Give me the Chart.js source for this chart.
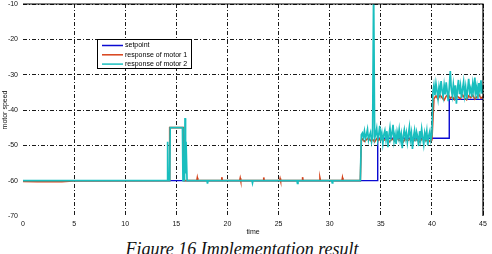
<!DOCTYPE html>
<html>
<head>
<meta charset="utf-8">
<script src="https://cdn.jsdelivr.net/npm/chart.js@4.4.1/dist/chart.umd.min.js"></script>
<style>
    html, body { margin: 0; padding: 0; background: #fff; }
    #wrap { position: relative; width: 492px; height: 236px; }
    #caption {
        position: absolute; left: -4px; top: 239px; width: 492px; text-align: center;
        font: italic 18px "Liberation Serif", "Times New Roman", serif; color: #111;
        white-space: nowrap;
    }
</style>
</head>
<body>
<div id="wrap"><canvas id="speedChart"></canvas></div>
<div id="caption">Figure 16 Implementation result</div>
<script>
// setpoint (step reference)
const setpointTime  = [0, 34.7, 34.7, 41.7, 41.7, 45];
const setpointSpeed = [-60, -60, -48, -48, -37, -37];

// motor 1, hand-read points up to the first step, then a sampled tail
const motor1Time  = [0, 1.4, 2.6, 3.8, 4.9, 14.3, 14.35, 15.7, 15.75,
                     17.0, 17.05, 17.1, 19.4, 19.45, 19.5, 21.2, 21.25, 21.3, 23.5, 23.55, 23.6,
                     25.1, 25.15, 25.2, 27.3, 27.35, 27.4, 29.0, 29.05, 29.1, 31.2, 31.25, 31.3, 33.0, 33.1];
const motor1Speed = [-60.2, -60.3, -60.2, -60.3, -60.1, -60, -45, -45, -60,
                     -60, -59.2, -60, -60, -59.0, -60, -60, -59.3, -60, -60, -59.1, -60,
                     -60, -59.4, -60, -60, -59.0, -60, -60, -59.3, -60, -60, -59.2, -60, -60, -48.6];
const motor1TailStart = 33.2, motor1TailStep = 0.2;
const motor1Tail = [
    -48.2, -48.9, -48.4, -47.9, -48.7, -48.3, -49.0, -48.1, -48.6, -47.8, -48.8, -48.4,
    -48.0, -49.1, -48.5, -48.2, -48.9, -47.9, -48.6, -48.3, -49.0, -48.1, -48.7, -48.4,
    -47.8, -48.8, -48.2, -48.6, -49.0, -48.3, -48.0, -48.7, -48.4, -48.9, -48.5,
    -36.8, -36.0, -36.9, -35.8, -36.5, -37.2, -36.1, -35.6, -36.7, -36.2, -37.0, -35.9,
    -36.4, -36.8, -35.7, -36.6, -37.1, -36.0, -36.5, -35.8, -36.9, -36.3, -35.6, -36.7, -36.2
];

// motor 2
const motor2Time  = [0, 14.1, 14.15, 14.2, 14.35, 14.4, 15.6, 15.65, 15.8, 15.85, 15.9,
                     15.95, 16.05, 18.0, 18.05, 18.1, 22.4, 22.45, 22.5, 26.8, 26.85, 26.9, 30.2, 30.25, 30.3, 33.0, 33.1];
const motor2Speed = [-60, -60, -49, -60, -60, -45, -45, -60, -60, -42.3, -58,
                     -49, -60, -60, -60.8, -60, -60, -60.7, -60, -60, -60.8, -60, -60, -60.6, -60, -60, -47];
const motor2TailStart = 33.2, motor2TailStep = 0.1;
const motor2Tail = [
    -46.5, -47.8, -46.0, -48.2, -47.0, -45.5, -48.5, -47.2, -46.3, -49.0, -47.5, -5,
    -48.0, -46.8, -45.2, -48.6, -47.0, -44.5, -48.0, -46.5, -49.5, -47.0, -45.8, -48.2,
    -46.0, -50.5, -47.2, -45.0, -48.0, -46.6, -44.2, -48.8, -47.0, -49.6, -46.2, -47.8,
    -45.5, -48.5, -46.8, -50.8, -47.3, -45.6, -48.0, -46.4, -49.2, -47.0, -44.8, -48.4,
    -46.5, -51.0, -47.6, -45.8, -48.9, -46.2, -47.5, -50.2, -46.0, -48.3, -45.4, -47.8,
    -49.8, -46.5, -48.0, -45.9, -50.0, -47.2, -46.0, -48.5, -47.0,
    -35.0, -33.0, -35.8, -32.5, -34.6, -36.8, -33.4, -35.2, -31.8, -34.5,
    -36.2, -33.0, -35.6, -32.2, -34.8, -37.5, -33.6, -29.0, -34.2, -36.0,
    -32.8, -35.4, -33.0, -38.2, -34.0, -31.5, -35.5, -33.2, -36.6, -34.0,
    -32.0, -35.8, -33.5, -37.0, -34.2, -31.2, -35.0, -33.8, -36.4, -32.6,
    -34.8, -30.8, -35.2, -33.4, -36.8, -32.4, -34.6, -31.6, -35.4, -33.0
];

const xTicks = [0, 5, 10, 15, 20, 25, 30, 35, 40, 45];
const yTicks = [-70, -60, -50, -40, -30, -20, -10];

const toPoints = (times, values) => times.map((t, i) => ({ x: t, y: values[i] }));
const withTail = (times, values, start, step, tail) =>
    toPoints(times, values).concat(tail.map((v, i) => ({ x: +(start + i * step).toFixed(2), y: v })));

const axisFont = { family: '"Liberation Sans", Arial, sans-serif', size: 7 };

const frameAndLegend = {
    id: 'frameAndLegend',
    afterDraw(chart) {
        const { ctx, chartArea: a } = chart;
        ctx.save();
        // top and right of the box
        ctx.strokeStyle = '#000';
        ctx.lineWidth = 1.2;
        ctx.beginPath();
        ctx.moveTo(a.left, a.top);
        ctx.lineTo(a.right, a.top);
        ctx.lineTo(a.right, a.bottom);
        ctx.stroke();

        // legend box inside the plot
        const lx = a.left + 74, ly = a.top + 35, lw = 94, lh = 29;
        ctx.fillStyle = '#fff';
        ctx.fillRect(lx, ly, lw, lh);
        ctx.lineWidth = 1;
        ctx.strokeRect(lx + 0.5, ly + 0.5, lw, lh);
        ctx.font = '7px "Liberation Sans", Arial, sans-serif';
        ctx.textBaseline = 'middle';
        chart.data.datasets.forEach((ds, i) => {
            const y = ly + 6.5 + i * 9.3;
            ctx.strokeStyle = ds.borderColor;
            ctx.lineWidth = 1.5;
            ctx.beginPath();
            ctx.moveTo(lx + 5, y);
            ctx.lineTo(lx + 26, y);
            ctx.stroke();
            ctx.fillStyle = '#000';
            ctx.fillText(ds.label, lx + 28, y);
        });
        ctx.restore();
    }
};

document.addEventListener('DOMContentLoaded', function() {
    const ctx = document.getElementById('speedChart').getContext('2d');
    new Chart(ctx, {
        type: 'line',
        data: {
            datasets: [{
                label: 'setpoint',
                data: toPoints(setpointTime, setpointSpeed),
                borderColor: 'rgb(10, 10, 210)',
                borderWidth: 1.4,
                order: 2
            }, {
                label: 'response of motor 1',
                data: withTail(motor1Time, motor1Speed, motor1TailStart, motor1TailStep, motor1Tail),
                borderColor: 'rgb(215, 65, 25)',
                borderWidth: 1.6,
                order: 1
            }, {
                label: 'response of motor 2',
                data: withTail(motor2Time, motor2Speed, motor2TailStart, motor2TailStep, motor2Tail),
                borderColor: 'rgb(25, 190, 190)',
                borderWidth: 1.7,
                order: 0
            }]
        },
        options: {
            responsive: true,
            maintainAspectRatio: false,
            animation: false,
            elements: { point: { radius: 0 }, line: { tension: 0 } },
            layout: { padding: { left: 0, right: 9, top: 4, bottom: 0 } },
            plugins: { legend: { display: false }, tooltip: { enabled: false } },
            scales: {
                x: {
                    type: 'linear',
                    min: 0,
                    max: 45,
                    afterBuildTicks: s => { s.ticks = xTicks.map(v => ({ value: v })); },
                    afterFit: s => { s.height = 20; },
                    grid: {
                        drawTicks: false,
                        lineWidth: 0.9,
                        color: c => (c.tick && c.tick.value === 0) ? 'rgba(0,0,0,0)' : '#000'
                    },
                    border: { display: false, dash: [4, 2, 1, 2] },
                    ticks: { font: axisFont, color: '#111', padding: 4, maxRotation: 0 },
                    title: { display: true, text: 'time', font: axisFont, color: '#111', padding: 0 }
                },
                y: {
                    min: -70,
                    max: -10,
                    afterBuildTicks: s => { s.ticks = yTicks.map(v => ({ value: v })); },
                    afterFit: s => { s.width = 23; s.paddingTop = 0; s.paddingBottom = 0; },
                    grid: {
                        drawTicks: false,
                        lineWidth: 0.9,
                        color: c => (c.tick && c.tick.value === -70) ? 'rgba(0,0,0,0)' : '#000'
                    },
                    border: { display: false, dash: [4, 2, 1, 2] },
                    ticks: { font: axisFont, color: '#111', padding: 5 },
                    title: { display: true, text: 'motor speed', font: axisFont, color: '#111', padding: 1 }
                }
            }
        },
        plugins: [frameAndLegend]
    });
});
</script>
</body>
</html>
